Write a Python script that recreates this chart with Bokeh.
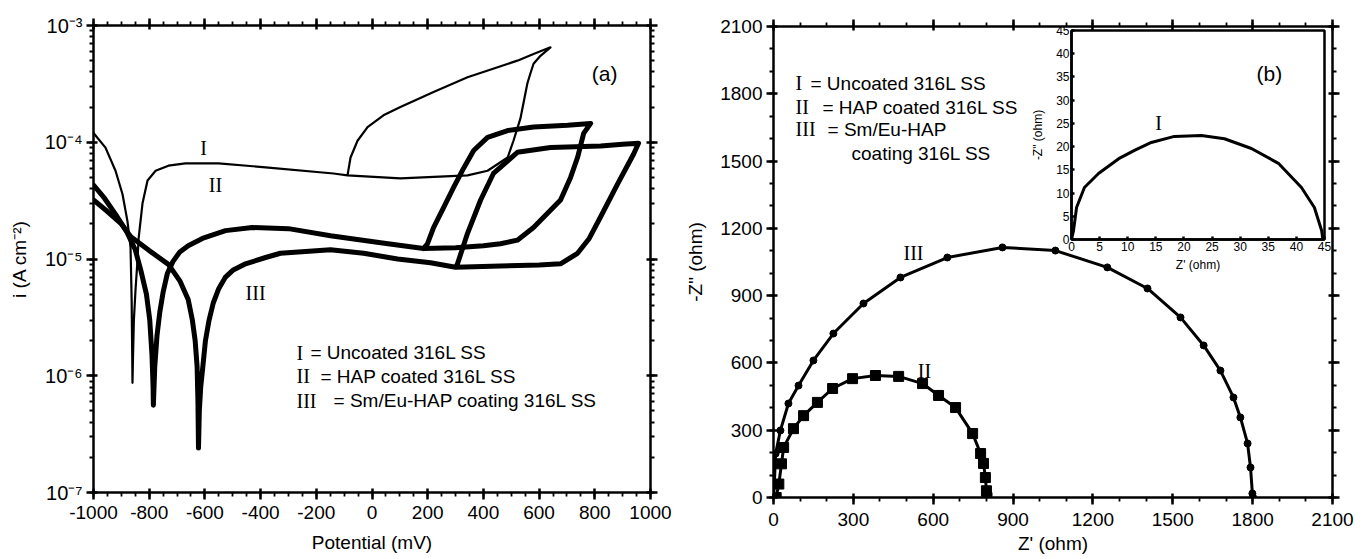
from bokeh.plotting import figure
from bokeh.models import (Range1d, LinearAxis, LogAxis, FixedTicker,
                          CustomJSTickFormatter, ColumnDataSource)
from bokeh.layouts import row
from bokeh.embed import file_html
from bokeh.resources import INLINE
from bokeh.core.properties import value

# ---------------- data: panel (a) potentiodynamic polarisation ----------------
I_pot = [-1000, -957, -921, -896, -878, -867, -863, -861, -860, -858, -855, -849, -843,
         -838, -824, -806, -777, -731, -670, -551, -382, -138, -88, 102, 343, 415, 487,
         508, 533, 558, 569, 580, 605, 641, 580, 522, 343, 221, 102, 41, -16, -52, -77, -88]
I_cur = [1.2e-4, 9.0e-5, 5.7e-5, 3.6e-5, 2.1e-5, 1.26e-5, 4.4e-6, 1.5e-6, 8.7e-7, 1.5e-6,
         3.0e-6, 5.5e-6, 9.0e-6, 1.5e-5, 3.0e-5, 4.7e-5, 5.7e-5, 6.3e-5, 6.6e-5, 6.6e-5,
         6.1e-5, 5.4e-5, 5.2e-5, 4.9e-5, 5.2e-5, 5.7e-5, 7.4e-5, 1.03e-4, 1.6e-4, 3.2e-4,
         3.9e-4, 4.7e-4, 5.5e-4, 6.5e-4, 5.7e-4, 5.0e-4, 3.6e-4, 2.7e-4, 2.0e-4, 1.7e-4,
         1.35e-4, 1.03e-4, 7.4e-5, 5.2e-5]

II_pot = [-1000, -960, -920, -880, -850, -830, -810, -798, -790, -786, -785, -780, -772,
          -762, -750, -735, -715, -690, -660, -609, -526, -430, -300, -149, 31, 185, 300,
          400, 461, 522, 580, 677, 713, 738, 760, 785, 702, 580, 487, 415, 365, 329, 293,
          257, 221, 199, 185]
II_cur = [4.3e-5, 3.3e-5, 2.4e-5, 1.7e-5, 1.2e-5, 8.0e-6, 5.0e-6, 3.0e-6, 1.5e-6, 8.0e-7,
          5.6e-7, 1.2e-6, 2.2e-6, 3.5e-6, 5.2e-6, 7.5e-6, 9.5e-6, 1.15e-5, 1.3e-5, 1.5e-5,
          1.75e-5, 1.86e-5, 1.82e-5, 1.58e-5, 1.38e-5, 1.23e-5, 1.25e-5, 1.3e-5, 1.35e-5,
          1.45e-5, 1.86e-5, 3.2e-5, 5.0e-5, 7.4e-5, 1.19e-4, 1.45e-4, 1.4e-4, 1.35e-4,
          1.26e-4, 1.1e-4, 8.5e-5, 6.0e-5, 4.1e-5, 2.75e-5, 1.86e-5, 1.35e-5, 1.23e-5]

III_pot = [-1000, -950, -900, -866, -800, -731, -690, -660, -645, -635, -628, -625, -623,
           -620, -615, -609, -598, -585, -570, -550, -526, -500, -454, -382, -329, -149,
           -30, 92, 210, 300, 461, 600, 677, 738, 780, 821, 882, 939, 957, 900, 821, 641,
           522, 436, 390, 343, 307, 300]
III_cur = [3.2e-5, 2.55e-5, 2.0e-5, 1.55e-5, 1.18e-5, 9.0e-6, 6.5e-6, 4.5e-6, 3.0e-6,
           2.0e-6, 1.2e-6, 6.0e-7, 2.4e-7, 5.0e-7, 8.0e-7, 1.1e-6, 2.0e-6, 3.0e-6, 4.2e-6,
           5.6e-6, 7.0e-6, 8.0e-6, 9.1e-6, 1.03e-5, 1.12e-5, 1.2e-5, 1.12e-5, 1.0e-5,
           9.3e-6, 8.5e-6, 8.7e-6, 8.9e-6, 9.1e-6, 1.12e-5, 1.5e-5, 2.3e-5, 4.4e-5, 7.9e-5,
           9.8e-5, 9.6e-5, 9.3e-5, 9.0e-5, 8.2e-5, 5.4e-5, 3.2e-5, 1.66e-5, 9.1e-6, 8.5e-6]

pot_ticks = list(range(-1000, 1001, 200))
pot_minor = list(range(-1000, 1001, 50))
cur_ticks = [1e-7, 1e-6, 1e-5, 1e-4, 1e-3]
cur_minor = [m * 10.0 ** e for e in range(-7, -3) for m in range(1, 10)]

# ---------------- data: panel (b) Nyquist ----------------
II_zr = [10, 20, 30, 38, 75, 113, 165, 222, 297, 383, 470, 560, 620, 684, 748, 778, 789,
         796, 800, 802]
II_zi = [0, 60, 150, 223, 307, 365, 424, 486, 530, 544, 540, 508, 455, 401, 285, 196, 152,
         89, 30, 0]
III_zr = [0, 3, 8, 26, 56, 94, 150, 225, 338, 477, 653, 860, 1059, 1254, 1405, 1529, 1616,
          1679, 1728, 1754, 1781, 1792, 1799, 1802]
III_zi = [0, 60, 196, 299, 419, 499, 611, 731, 865, 981, 1070, 1115, 1101, 1026, 932, 803,
          678, 566, 446, 357, 241, 134, 18, 0]
z_ticks = list(range(0, 2101, 300))
z_minor = list(range(0, 2101, 100))

# inset: uncoated
I_zr = [0, 0.36, 0.9, 2.3, 4.8, 8.4, 11.2, 14.2, 18.3, 23.1, 27.2, 32.0, 36.8, 40.9, 43.2,
        44.5, 44.7]
I_zi = [0, 1.9, 6.9, 11.2, 14.2, 17.4, 19.2, 20.9, 22.2, 22.4, 21.7, 19.6, 16.4, 11.2, 6.9,
        1.9, 0]
in_ticks = list(range(0, 46, 5))

# ---------------- text ----------------
leg_num = ["I", "II", "III"]
leg_a_txt = ["= Uncoated 316L SS", "= HAP coated 316L SS", "= Sm/Eu-HAP coating 316L SS"]
leg_b_txt = ["= Uncoated 316L SS", "= HAP coated 316L SS", "= Sm/Eu-HAP"]
leg_b_extra = "coating 316L SS"

SANS = "Liberation Sans"
SERIF = "Liberation Serif"

blank = CustomJSTickFormatter(code="return '';")
plain = CustomJSTickFormatter(code="return String(tick);")
pow10 = CustomJSTickFormatter(code="""
const e = Math.round(Math.log10(tick));
const sup = {'-':'\u207b','0':'\u2070','1':'\u00b9','2':'\u00b2','3':'\u00b3','4':'\u2074',
             '5':'\u2075','6':'\u2076','7':'\u2077','8':'\u2078','9':'\u2079'};
return '10' + String(e).split('').map(c => sup[c]).join('');
""")


def style_axis(ax, size="19px", lw=2.5, tin=4, tout=7, mout=4):
    ax.axis_line_width = lw
    ax.axis_line_color = "black"
    ax.major_tick_line_width = lw
    ax.major_tick_line_color = "black"
    ax.minor_tick_line_width = 1.8
    ax.minor_tick_line_color = "black"
    ax.major_tick_in = tin
    ax.major_tick_out = tout
    ax.minor_tick_in = 0
    ax.minor_tick_out = mout
    ax.major_label_text_font = SANS
    ax.major_label_text_font_size = size
    ax.major_label_text_color = "black"
    ax.axis_label_text_font = SANS
    ax.axis_label_text_font_style = "normal"
    ax.axis_label_text_color = "black"


def txt(p, xs, ys, texts, font, size, align="left", **kw):
    src = ColumnDataSource(dict(x=xs, y=ys, t=texts))
    p.text(x="x", y="y", text="t", source=src, text_font=value(font),
           text_font_size=value(size), text_align=align, text_baseline="middle",
           text_color="black", **kw)


# ================= panel (a) =================
pa = figure(frame_width=557, frame_height=467, x_range=Range1d(-1000, 1000),
            y_range=Range1d(1e-7, 1e-3), y_axis_type="log", title=None,
            output_backend="svg", toolbar_location=None, frame_align=False,
            min_border_left=93, min_border_right=31, min_border_top=25,
            min_border_bottom=66)
pa.xgrid.visible = False
pa.ygrid.visible = False
pa.outline_line_color = None
xt_a = FixedTicker(ticks=pot_ticks, minor_ticks=pot_minor)
yt_a = FixedTicker(ticks=cur_ticks, minor_ticks=cur_minor)
pa.xaxis.ticker = xt_a
pa.xaxis.formatter = plain
pa.yaxis.ticker = yt_a
pa.yaxis.formatter = pow10
pa.xaxis.axis_label = "Potential (mV)"
pa.yaxis.axis_label = "i (A cm\u207b\u00b2)"
for ax in pa.xaxis + pa.yaxis:
    style_axis(ax)
    ax.axis_label_text_font_size = "19px"
pa.xaxis.major_label_standoff = 6
pa.xaxis.axis_label_standoff = 10
pa.yaxis.major_label_standoff = 4
pa.yaxis.axis_label_standoff = 12
pa.yaxis.major_label_text_font_size = "20px"

top_a = LinearAxis(ticker=xt_a, formatter=blank)
right_a = LogAxis(ticker=yt_a, formatter=blank)
for ax in (top_a, right_a):
    style_axis(ax)
    ax.major_label_text_font_size = "1px"
    ax.major_label_standoff = 0
pa.add_layout(top_a, "above")
pa.add_layout(right_a, "right")

pa.line(I_pot, I_cur, line_color="black", line_width=2.2, line_join="round",
        line_cap="round")
pa.line(II_pot, II_cur, line_color="black", line_width=5, line_join="round",
        line_cap="round")
pa.line(III_pot, III_cur, line_color="black", line_width=5, line_join="round",
        line_cap="round")

txt(pa, [-605, -562, -418], [9.0e-5, 4.3e-5, 5.1e-6], leg_num, SERIF, "20px", "center")
txt(pa, [-271, -271, -271], [1.58e-6, 9.9e-7, 6.1e-7], leg_num, SERIF, "20px")
txt(pa, [-221, -185, -138], [1.58e-6, 9.9e-7, 6.1e-7], leg_a_txt, SANS, "19px")
txt(pa, [835], [3.9e-4], ["(a)"], SANS, "21px", "center")

# ================= panel (b) =================
pb = figure(frame_width=559, frame_height=471, x_range=Range1d(0, 2100),
            y_range=Range1d(0, 2100), title=None,
            output_backend="svg", toolbar_location=None, frame_align=False,
            min_border_left=92, min_border_right=28, min_border_top=26,
            min_border_bottom=61)
pb.xgrid.visible = False
pb.ygrid.visible = False
pb.outline_line_color = None
zt = FixedTicker(ticks=z_ticks, minor_ticks=z_minor)
pb.xaxis.ticker = zt
pb.yaxis.ticker = zt
pb.xaxis.axis_label = "Z' (ohm)"
pb.yaxis.axis_label = "-Z\" (ohm)"
for ax in pb.xaxis + pb.yaxis:
    style_axis(ax)
    ax.axis_label_text_font_size = "19px"
pb.xaxis.major_label_standoff = 8
pb.xaxis.axis_label_standoff = 4
pb.yaxis.major_label_standoff = 4
pb.yaxis.axis_label_standoff = 11
top_b = LinearAxis(ticker=zt, formatter=blank)
right_b = LinearAxis(ticker=zt, formatter=blank)
for ax in (top_b, right_b):
    style_axis(ax)
    ax.major_label_text_font_size = "1px"
    ax.major_label_standoff = 0
pb.add_layout(top_b, "above")
pb.add_layout(right_b, "right")

pb.line(III_zr, III_zi, line_color="black", line_width=3)
pb.scatter(III_zr, III_zi, marker="circle", size=7, color="black")
pb.line(II_zr, II_zi, line_color="black", line_width=3)
pb.scatter(II_zr, II_zi, marker="square", size=10, color="black")

txt(pb, [526, 567], [1092, 566], ["III", "II"], SERIF, "20px", "center")
txt(pb, [83, 83, 83], [1846, 1739, 1641], leg_num, SERIF, "20px")
txt(pb, [139, 184, 203], [1846, 1739, 1641], leg_b_txt, SANS, "19px")
txt(pb, [293], [1534], [leg_b_extra], SANS, "19px")

# ================= inset =================
pi = figure(frame_width=253, frame_height=209, x_range=Range1d(0, 45),
            y_range=Range1d(0, 45), title=None,
            output_backend="svg", toolbar_location=None, frame_align=False,
            min_border_left=42, min_border_right=10, min_border_top=5,
            min_border_bottom=40, border_fill_color=None, background_fill_color="white")
pi.margin = (25, 0, 0, -332)
pi.xgrid.visible = False
pi.ygrid.visible = False
pi.outline_line_color = "black"
pi.outline_line_width = 2.5
it = FixedTicker(ticks=in_ticks)
pi.xaxis.ticker = it
pi.yaxis.ticker = it
pi.xaxis.axis_label = "Z' (ohm)"
pi.yaxis.axis_label = "-Z\" (ohm)"
for ax in pi.xaxis + pi.yaxis:
    style_axis(ax, size="12px", lw=2.5, tin=3, tout=0, mout=0)
    ax.axis_label_text_font_size = "12px"
    ax.major_label_standoff = 2
pi.xaxis.axis_label_standoff = 4
pi.yaxis.axis_label_standoff = 8
pi.line(I_zr, I_zi, line_color="black", line_width=3)
txt(pi, [15.5], [25.0], ["I"], SERIF, "20px", "center")
txt(pi, [35.2], [35.7], ["(b)"], SANS, "21px", "center")

layout = row(pa, pb, pi)
open("out.html", "w").write(file_html(layout, INLINE))
